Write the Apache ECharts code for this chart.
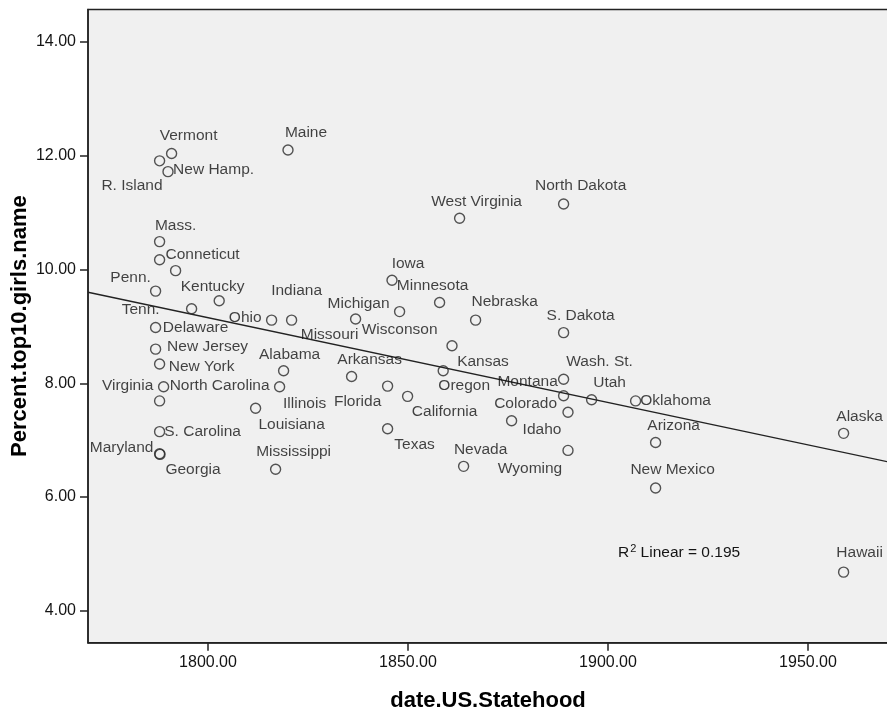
<!DOCTYPE html>
<html>
<head>
<meta charset="utf-8">
<script src="https://cdn.jsdelivr.net/npm/echarts@6/dist/echarts.min.js"></script>
<style>
  html, body { margin: 0; padding: 0; background: #ffffff; }
  #chart { width: 887px; height: 715px; }
</style>
</head>
<body>
<div id="chart"></div>
<script>
// State labels, year of statehood and share of girls given a top-10 name
const states = [
  'Vermont', 'New Hamp.', 'R. Island', 'Maine', 'Mass.', 'Conneticut', 'Kentucky', 'Penn.',
  'Ohio', 'Tenn.', 'Delaware', 'Indiana', 'Missouri', 'New Jersey', 'New York', 'Alabama',
  'North Carolina', 'Illinois', 'Virginia', 'Louisiana', 'S. Carolina', 'Maryland', 'Georgia',
  'Mississippi', 'West Virginia', 'North Dakota', 'Iowa', 'Minnesota', 'Michigan', 'Wisconson',
  'Nebraska', 'S. Dakota', 'Kansas', 'Arkansas', 'Oregon', 'Florida', 'California', 'Wash. St.',
  'Montana', 'Utah', 'Idaho', 'Colorado', 'Texas', 'Nevada', 'Wyoming', 'Oklahoma', 'Arizona',
  'New Mexico', 'Alaska', 'Hawaii'
];
const statehoodYear = [
  1790.9, 1787.9, 1790.0, 1820.0, 1787.9, 1787.9, 1791.9, 1786.9,
  1802.8, 1795.9, 1786.9, 1815.9, 1820.9, 1786.9, 1787.9, 1818.9,
  1788.9, 1817.9, 1787.9, 1811.9, 1787.9, 1787.9, 1788.0,
  1816.9, 1862.9, 1888.9, 1846.0, 1857.9, 1836.9, 1847.9,
  1866.9, 1888.9, 1861.0, 1835.9, 1858.8, 1844.9, 1849.9, 1888.9,
  1888.9, 1895.9, 1890.0, 1875.9, 1844.9, 1863.9, 1890.0, 1906.9, 1911.9,
  1911.9, 1958.9, 1958.9
];
const percentTop10 = [
  12.04, 11.91, 11.72, 12.10, 10.49, 10.17, 9.98, 9.62,
  9.45, 9.31, 8.98, 9.11, 9.11, 8.60, 8.34, 8.22,
  7.94, 7.94, 7.69, 7.56, 7.15, 6.76, 6.75,
  6.49, 10.90, 11.15, 9.81, 9.42, 9.13, 9.26,
  9.11, 8.89, 8.66, 8.12, 8.22, 7.95, 7.77, 8.07,
  7.78, 7.71, 7.49, 7.34, 7.20, 6.54, 6.82, 7.69, 6.96,
  6.16, 7.12, 4.68
];

// Axis tick values
const xTicks = [1800, 1850, 1900, 1950];
const yTicks = [4, 6, 8, 10, 12, 14];

// Linear fit line (endpoints at the x range limits), R² of the fit
const fitLine = [[1770, 9.60], [1970, 6.62]];
const rSquared = '0.195';

// Where each state's label sits relative to its marker, in pixels [dx, dy]
const labelOffsets = [
  [17, -18], [54, 9], [-36, 14], [18, -17], [16, -16], [43, -5], [37, 16], [-25, -13],
  [26, 17], [-51, 1], [40, 0], [25, -29], [38, 15], [52, -2], [42, 3], [6, -16],
  [56, -1], [25, 17], [-32, -15], [36, 16], [43, 0], [-38, -6], [33, 15],
  [18, -17], [17, -17], [17, -18], [16, -17], [-7, -17], [3, -15], [0, 18],
  [29, -18], [17, -17], [31, 16], [18, -17], [21, 15], [-30, 16], [37, 15], [36, -18],
  [-36, -14], [18, -17], [-26, 17], [14, -17], [27, 16], [17, -17], [-38, 18], [40, 0], [18, -17],
  [17, -18], [16, -17], [16, -19]
];

const FONT = '"Liberation Sans", Arial, sans-serif';
const INK = '#141414';

const points = states.map((name, i) => ({
  name: name,
  value: [statehoodYear[i], percentTop10[i]]
}));

const chart = echarts.init(document.getElementById('chart'), null, { renderer: 'canvas' });

chart.setOption({
  animation: false,
  backgroundColor: '#ffffff',
  grid: {
    left: 88, top: 9.5, right: -1, bottom: 72.3,
    outerBoundsMode: 'none',
    containLabel: false,
    show: true,
    backgroundColor: '#f0f0f0',
    borderColor: '#222222',
    borderWidth: 1.5
  },
  xAxis: {
    type: 'value',
    min: 1770, max: 1970,
    name: 'date.US.Statehood',
    nameLocation: 'middle',
    nameGap: 47,
    nameMoveOverlap: false,
    nameTextStyle: { fontFamily: FONT, fontSize: 22, fontWeight: 'bold', color: '#000' },
    axisLine: { show: true, onZero: false, lineStyle: { color: '#222222', width: 1.5 } },
    axisTick: { show: true, inside: false, length: 8, customValues: xTicks, lineStyle: { color: '#222222', width: 1.5 } },
    axisLabel: {
      customValues: xTicks, margin: 12,
      fontFamily: FONT, fontSize: 16, color: INK,
      formatter: v => v.toFixed(2)
    },
    splitLine: { show: false }
  },
  yAxis: {
    type: 'value',
    min: 3.44, max: 14.57,
    name: 'Percent.top10.girls.name',
    nameLocation: 'middle',
    nameGap: 57,
    nameMoveOverlap: false,
    nameTextStyle: { fontFamily: FONT, fontSize: 22, fontWeight: 'bold', color: '#000' },
    axisLine: { show: true, onZero: false, lineStyle: { color: '#222222', width: 1.5 } },
    axisTick: { show: true, inside: false, length: 8, customValues: yTicks, lineStyle: { color: '#222222', width: 1.5 } },
    axisLabel: {
      customValues: yTicks, margin: 12,
      fontFamily: FONT, fontSize: 16, color: INK,
      formatter: v => v.toFixed(2)
    },
    splitLine: { show: false }
  },
  series: [
    {
      type: 'line',
      data: fitLine,
      showSymbol: false,
      symbol: 'none',
      silent: true,
      lineStyle: { color: '#222222', width: 1.3 },
      z: 2
    },
    {
      type: 'scatter',
      data: points,
      symbol: 'circle',
      symbolSize: 10,
      itemStyle: { color: 'rgba(0,0,0,0)', borderColor: '#2a2a2a', borderWidth: 1.4 },
      label: {
        show: true,
        position: 'inside',
        align: 'center',
        verticalAlign: 'middle',
        formatter: p => p.name,
        fontFamily: FONT,
        fontSize: 15.5,
        color: INK
      },
      // shift each label next to its marker
      labelLayout: function (params) {
        const o = labelOffsets[params.dataIndex];
        return { dx: o[0], dy: o[1], hideOverlap: false };
      },
      z: 3
    }
  ],
  graphic: [
    {
      type: 'text',
      left: 618,
      top: 543,
      style: {
        text: '{r|R}{s|2}{r| Linear = }{r|' + rSquared + '}',
        rich: {
          r: { fontFamily: FONT, fontSize: 15.5, fill: INK, verticalAlign: 'bottom' },
          s: { fontFamily: FONT, fontSize: 11, fill: INK, padding: [0, 0, 7, 1], verticalAlign: 'bottom' }
        }
      },
      z: 10
    }
  ]
});
</script>
</body>
</html>
